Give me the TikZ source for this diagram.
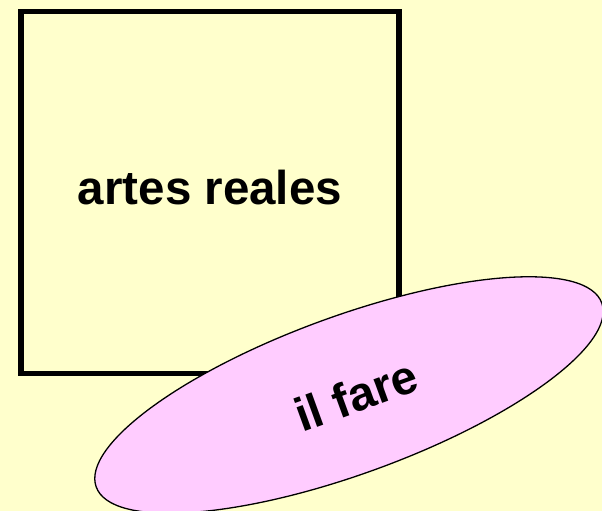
\documentclass[tikz,border=0pt]{standalone}
\usepackage{fontspec}
\setmainfont{Liberation Sans}
\usepackage{tikz}
\usetikzlibrary{positioning, shapes.geometric}
\definecolor{paper}{HTML}{FFFFCC}
\definecolor{pinkfill}{HTML}{FFCCFF}
\tikzstyle{bigbox} =
[
	draw,rectangle,line width=5.5pt,
	minimum width=378pt, minimum height=362pt
]
\tikzstyle{blob} =
[
	draw,ellipse,line width=1.3pt,fill=pinkfill,inner sep=0pt,
	minimum width=538pt, minimum height=158pt
]
\tikzstyle{bigtext} =
[
	font=\fontsize{47.5}{57}\selectfont\bfseries, inner sep=0pt
]

\begin{document}
\begin{tikzpicture}[x=1pt,y=1pt]

\fill[paper] (0,0) rectangle (602,511);
\useasboundingbox (0,0) rectangle (602,511);

\node[bigbox] (artes) at (210,318.5) {};
\node[bigtext] (artestext) at ([yshift=5pt]artes.center) {artes reales};

\node[blob, rotate=20] (fare) at (349,116) {};
\node[bigtext, rotate=20] (faretext) at ([xshift=7pt]fare.center) {il fare};

\end{tikzpicture}
\end{document}
